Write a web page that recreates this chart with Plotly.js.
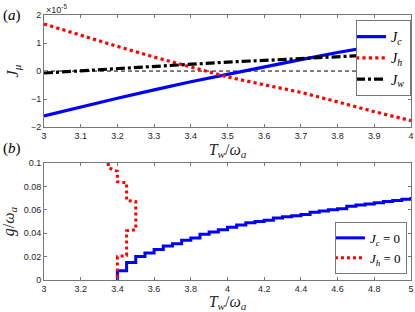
<!DOCTYPE html>
<html><head><meta charset="utf-8">
<script src="https://cdn.plot.ly/plotly-3.0.1.min.js"></script>
<style>html,body{margin:0;padding:0;background:#fff}#plot{width:415px;height:312px}</style>
</head><body><div id="plot"></div>
<script>
// Panel (a): currents (units of 1e-5)
const Tw_a = [3.0,3.1,3.2,3.3,3.4,3.5,3.6,3.7,3.8,3.9,4.0];
const Jc = [-1.60,-1.28,-0.97,-0.67,-0.38,-0.12,0.15,0.41,0.66,0.89,1.11];
const Jh = [1.68,1.27,0.88,0.50,0.14,-0.21,-0.49,-0.76,-1.10,-1.45,-1.77];
const Jw = [-0.07,0.01,0.09,0.17,0.24,0.32,0.38,0.44,0.50,0.57,0.64];
const zeroX = [3,4], zeroY = [0,0];

// Panel (b): boundaries
const Tw_c = [3.40,3.40,3.45,3.50,3.55,3.60,3.65,3.70,3.75,3.80,3.85,3.90,3.95,4.00,4.05,4.10,4.15,4.20,4.25,4.30,4.35,4.40,4.45,4.50,4.55,4.60,4.65,4.70,4.75,4.80,4.85,4.90,4.95,5.00];
const g_c  = [0,0.008,0.015,0.020,0.023,0.026,0.029,0.031,0.034,0.036,0.039,0.041,0.043,0.045,0.047,0.049,0.050,0.051,0.053,0.054,0.055,0.056,0.058,0.059,0.060,0.061,0.063,0.064,0.065,0.066,0.067,0.068,0.069,0.071];
const Tw_h = [3.35,3.35,3.40,3.40,3.45,3.45,3.50,3.50,3.45,3.45,3.40,3.40];
const g_h  = [0.100,0.096,0.093,0.084,0.083,0.068,0.067,0.043,0.042,0.021,0.020,0];

const serif = 'Liberation Serif, DejaVu Serif, serif';
const sans = 'Liberation Sans, Arial, sans-serif';
const axCommon = {showline:true, mirror:'ticks', linecolor:'#777', linewidth:1, ticks:'inside', ticklen:3, tickcolor:'#777', showgrid:false, zeroline:false, tickfont:{family:sans,size:9,color:'#262626'}};

const traces = [
  {x:zeroX, y:zeroY, xaxis:'x', yaxis:'y', mode:'lines', line:{color:'#000',width:1,dash:'4px,3px'}, showlegend:false, hoverinfo:'skip'},
  {x:Tw_a, y:Jc, xaxis:'x', yaxis:'y', mode:'lines', name:'<i>J<sub>c</sub></i>', line:{color:'#0000ff',width:3.2}, legend:'legend'},
  {x:Tw_a, y:Jh, xaxis:'x', yaxis:'y', mode:'lines', name:'<i>J<sub>h</sub></i>', line:{color:'#ff0000',width:3.2,dash:'dot'}, legend:'legend'},
  {x:Tw_a, y:Jw, xaxis:'x', yaxis:'y', mode:'lines', name:'<i>J<sub>w</sub></i>', line:{color:'#000',width:3.2,dash:'9px,3px,3px,3px'}, legend:'legend'},
  {x:Tw_c, y:g_c, xaxis:'x2', yaxis:'y2', mode:'lines', name:'<i>J<sub>c</sub></i> = 0', line:{color:'#0000ff',width:3,shape:'hv'}, legend:'legend2'},
  {x:Tw_h, y:g_h, xaxis:'x2', yaxis:'y2', mode:'lines', name:'<i>J<sub>h</sub></i> = 0', line:{color:'#ff0000',width:3,dash:'dot'}, legend:'legend2'}
];

const layout = {
  width:415, height:312, paper_bgcolor:'#fff', plot_bgcolor:'#fff',
  margin:{l:44, r:4, t:15, b:32},
  xaxis:Object.assign({}, axCommon, {domain:[0,1], range:[3,4], dtick:0.1, tick0:3, anchor:'y',
    title:{text:'<i>T<sub>w</sub></i>/<i>ω<sub>a</sub></i>', font:{family:serif,size:16,color:'#262626'}, standoff:3}}),
  yaxis:Object.assign({}, axCommon, {domain:[0.577,1], range:[-2,2], dtick:1, anchor:'x',
    title:{text:'<i>J<sub>μ</sub></i>', font:{family:serif,size:16,color:'#262626'}, standoff:8}}),
  xaxis2:Object.assign({}, axCommon, {domain:[0,1], range:[3,5], dtick:0.2, tick0:3, anchor:'y2',
    title:{text:'<i>T<sub>w</sub></i>/<i>ω<sub>a</sub></i>', font:{family:serif,size:16,color:'#262626'}, standoff:5}}),
  yaxis2:Object.assign({}, axCommon, {domain:[0,0.4415], range:[0,0.1], dtick:0.02, anchor:'x2',
    title:{text:'<i>g</i>/<i>ω<sub>a</sub></i>', font:{family:serif,size:16,color:'#262626'}, standoff:6}}),
  legend:{x:1,xanchor:'right',y:0.981,yanchor:'top', xref:'paper', yref:'paper', bgcolor:'#fff', bordercolor:'#777', borderwidth:1,
    font:{family:serif,size:14,color:'#000'}, itemwidth:30, tracegroupgap:0, indentation:-6},
  legend2:{x:0.989,xanchor:'right',y:0.023,yanchor:'bottom', xref:'paper', yref:'paper', bgcolor:'#fff', bordercolor:'#777', borderwidth:1,
    font:{family:serif,size:13,color:'#000'}, itemwidth:30, tracegroupgap:0, indentation:-6},
  annotations:[
    {text:'×10<sup>-5</sup>', xref:'paper', yref:'paper', x:0, y:1, xanchor:'left', yanchor:'bottom', showarrow:false, font:{family:sans,size:9,color:'#262626'}, yshift:-2},
    {text:'(<i>a</i>)', xref:'paper', yref:'paper', x:-0.087, y:1.0, xanchor:'center', yanchor:'middle', showarrow:false, font:{family:serif,size:15,color:'#000'}},
    {text:'(<i>b</i>)', xref:'paper', yref:'paper', x:-0.087, y:0.498, xanchor:'center', yanchor:'middle', showarrow:false, font:{family:serif,size:15,color:'#000'}}
  ]
};
Plotly.newPlot('plot', traces, layout, {displayModeBar:false, staticPlot:true});
</script></body></html>
